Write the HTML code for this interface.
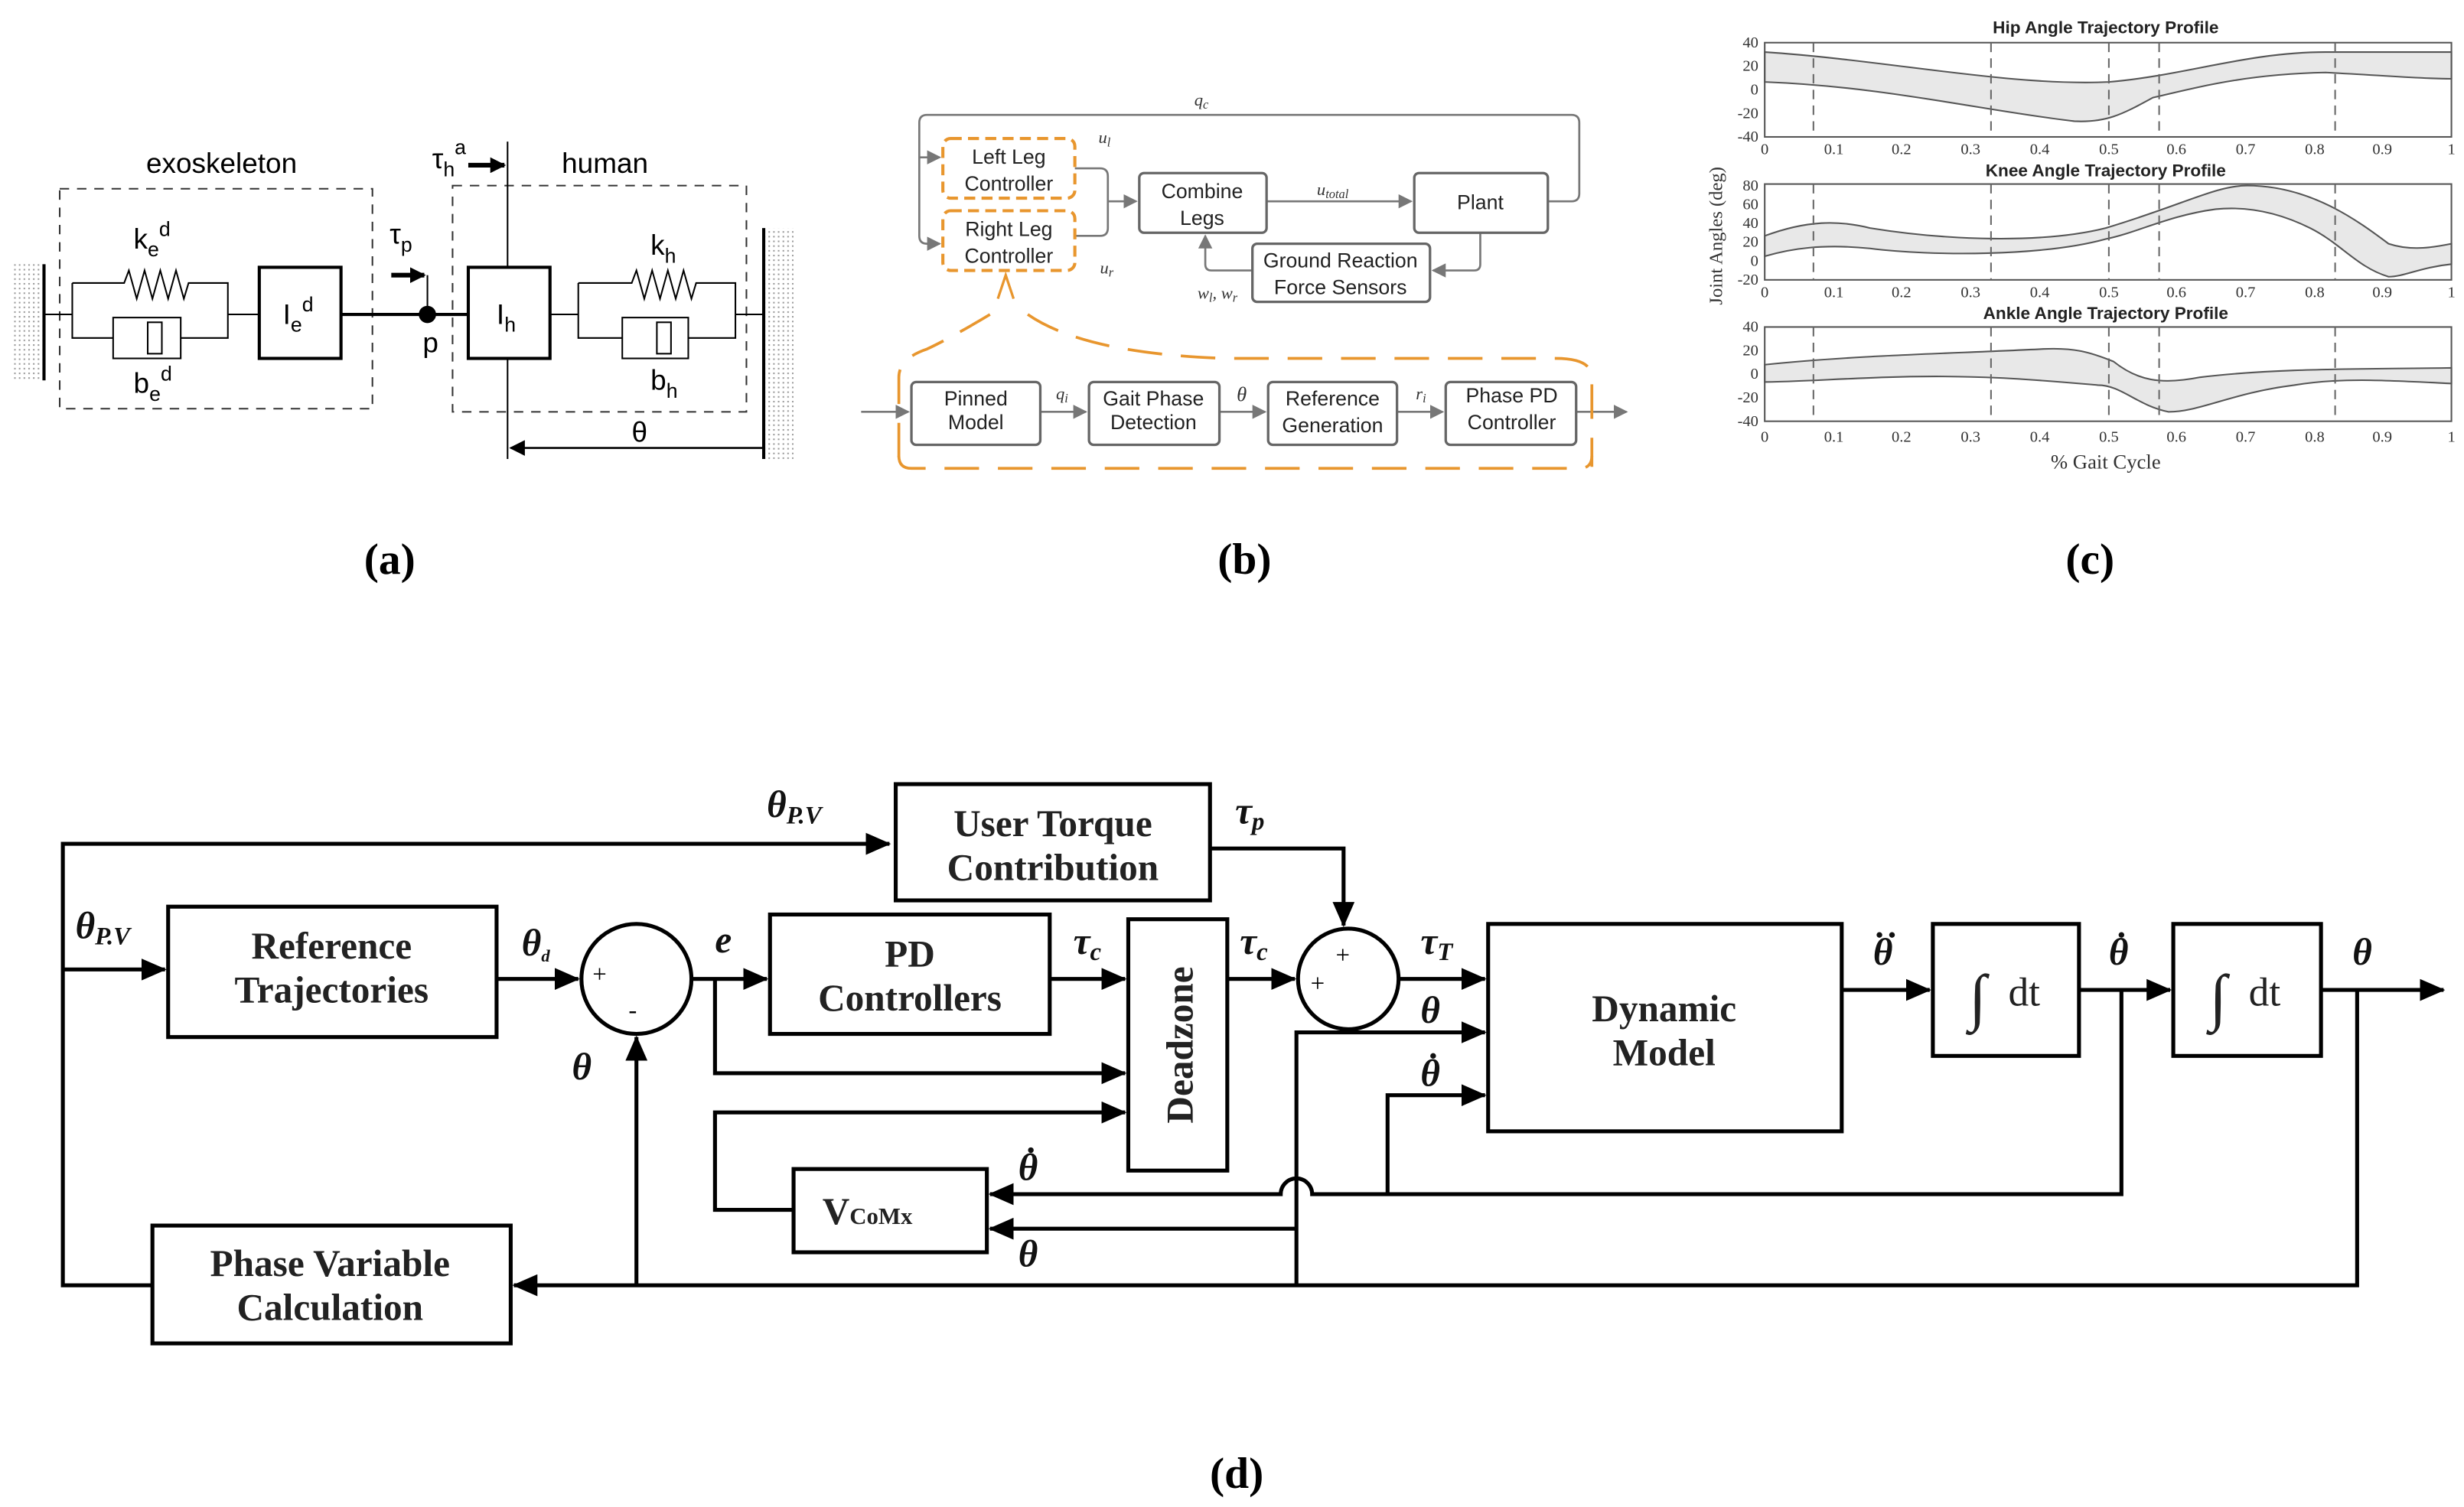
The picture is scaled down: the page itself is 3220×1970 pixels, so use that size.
<!DOCTYPE html>
<html><head><meta charset="utf-8"><style>
html,body{margin:0;padding:0;background:#fff;}
svg{display:block;}
.sa{font-family:"Liberation Sans","DejaVu Sans",sans-serif;}
.se{font-family:"Liberation Serif","DejaVu Serif",serif;}
</style></head><body>
<svg width="3220" height="1970" viewBox="0 0 1568 959" xmlns="http://www.w3.org/2000/svg">
<defs>
<marker id="ak" markerWidth="10" markerHeight="10" refX="9" refY="5" orient="auto" markerUnits="userSpaceOnUse"><path d="M0,0 L10,5 L0,10 z" fill="#000"/></marker>
<marker id="ag" markerWidth="9" markerHeight="9" refX="8" refY="4.5" orient="auto" markerUnits="userSpaceOnUse"><path d="M0,0 L9,4.5 L0,9 z" fill="#777"/></marker>
<marker id="ab" markerWidth="16" markerHeight="14" refX="15" refY="7" orient="auto" markerUnits="userSpaceOnUse"><path d="M0,0 L16,7 L0,14 z" fill="#000"/></marker>
<pattern id="hatch" width="3" height="3" patternUnits="userSpaceOnUse"><rect width="3" height="3" fill="#fff"/><rect width="1" height="1" fill="#999"/></pattern>
</defs>
<rect width="1568" height="959" fill="#fff"/>

<!-- ===== (a) ===== -->
<g stroke="#000" fill="none" stroke-width="1">
<rect x="8" y="168" width="19" height="74" fill="url(#hatch)" stroke="none"/>
<line x1="28" y1="168" x2="28" y2="242" stroke-width="2"/>
<rect x="38" y="120" width="199" height="140" stroke-dasharray="6,5" stroke="#333"/>
<rect x="288" y="118" width="187" height="144" stroke-dasharray="6,5" stroke="#333"/>
<line x1="28" y1="200" x2="46" y2="200"/>
<path d="M46,180 V215 H72 M115,215 H145 V180 H120 l-3,10 l-5,-18 l-5,18 l-5,-18 l-5,18 l-5,-18 l-5,18 l-5,-18 l-3,8 H46 M145,200 H165"/>
<rect x="72" y="202" width="43" height="26" fill="#fff"/>
<rect x="94" y="205" width="9" height="20" fill="#fff"/>
<rect x="165" y="170" width="52" height="58" stroke-width="2"/>
<line x1="217" y1="200" x2="298" y2="200" stroke-width="2"/>
<circle cx="272" cy="200" r="5" fill="#000"/>
<line x1="272" y1="175" x2="272" y2="200"/>
<line x1="249" y1="175" x2="270" y2="175" stroke-width="3" marker-end="url(#ak)"/>
<rect x="298" y="170" width="52" height="58" stroke-width="2"/>
<line x1="323" y1="90" x2="323" y2="170"/>
<line x1="323" y1="228" x2="323" y2="292"/>
<line x1="298" y1="105" x2="321" y2="105" stroke-width="3" marker-end="url(#ak)"/>
<path d="M350,200 H368 M368,180 V215 H396 M438,215 H468 V180 H443 l-3,10 l-5,-18 l-5,18 l-5,-18 l-5,18 l-5,-18 l-5,18 l-5,-18 l-3,8 H368 M468,200 H486"/>
<rect x="396" y="202" width="42" height="26" fill="#fff"/>
<rect x="418" y="205" width="9" height="20" fill="#fff"/>
<rect x="487" y="145" width="18" height="147" fill="url(#hatch)" stroke="none"/>
<line x1="486" y1="145" x2="486" y2="292" stroke-width="2"/>
<line x1="486" y1="285" x2="325" y2="285" stroke-width="1.3" marker-end="url(#ak)"/>
</g>
<g class="sa" fill="#000" font-size="18">
<text x="141" y="110" text-anchor="middle">exoskeleton</text>
<text x="385" y="110" text-anchor="middle">human</text>
<text x="85" y="158">k<tspan font-size="13" dy="5">e</tspan><tspan font-size="13" dy="-13">d</tspan></text>
<text x="85" y="250">b<tspan font-size="13" dy="5">e</tspan><tspan font-size="13" dy="-13">d</tspan></text>
<text x="180" y="206">I<tspan font-size="13" dy="5">e</tspan><tspan font-size="13" dy="-13">d</tspan></text>
<text x="316" y="206">I<tspan font-size="13" dy="5">h</tspan></text>
<text x="414" y="162">k<tspan font-size="13" dy="5">h</tspan></text>
<text x="414" y="248">b<tspan font-size="13" dy="5">h</tspan></text>
<text x="248" y="155">τ<tspan font-size="13" dy="5">p</tspan></text>
<text x="269" y="224">p</text>
<text x="275" y="107">τ<tspan font-size="13" dy="5">h</tspan><tspan font-size="13" dy="-14">a</tspan></text>
<text x="402" y="281">θ</text>
</g>

<!-- ===== (b) ===== -->
<g stroke="#777" fill="none" stroke-width="1.3">
<path d="M985,128 H1000 Q1005,128 1005,123 V78 Q1005,73 1000,73 H590 Q585,73 585,78 V150 Q585,155 590,155 H598" marker-end="url(#ag)"/>
<line x1="585" y1="100" x2="598" y2="100" marker-end="url(#ag)"/>
<path d="M684,107 H700 Q705,107 705,112 V145 Q705,150 700,150 H684"/>
<line x1="705" y1="128" x2="723" y2="128" marker-end="url(#ag)"/>
<line x1="806" y1="128" x2="898" y2="128" marker-end="url(#ag)"/>
<path d="M942,148 V168 Q942,172 938,172 H912" marker-end="url(#ag)"/>
<path d="M797,172 H771 Q767,172 767,168 V150" marker-end="url(#ag)"/>
<rect x="725" y="110" width="81" height="38" rx="3" stroke="#666" stroke-width="1.6"/>
<rect x="900" y="110" width="85" height="38" rx="3" stroke="#666" stroke-width="1.6"/>
<rect x="797" y="155" width="113" height="37" rx="3" stroke="#666" stroke-width="1.6"/>
<line x1="548" y1="262" x2="578" y2="262" marker-end="url(#ag)"/>
<line x1="662" y1="262" x2="691" y2="262" marker-end="url(#ag)"/>
<line x1="776" y1="262" x2="805" y2="262" marker-end="url(#ag)"/>
<line x1="889" y1="262" x2="918" y2="262" marker-end="url(#ag)"/>
<line x1="1003" y1="262" x2="1035" y2="262" marker-end="url(#ag)"/>
<rect x="580" y="243" width="82" height="40" rx="3" stroke="#666" stroke-width="1.6"/>
<rect x="693" y="243" width="83" height="40" rx="3" stroke="#666" stroke-width="1.6"/>
<rect x="807" y="243" width="82" height="40" rx="3" stroke="#666" stroke-width="1.6"/>
<rect x="920" y="243" width="83" height="40" rx="3" stroke="#666" stroke-width="1.6"/>
</g>
<g stroke="#e8962e" fill="none" stroke-width="2">
<rect x="600" y="88" width="84" height="38" rx="5" stroke-dasharray="7,4"/>
<rect x="600" y="134" width="84" height="38" rx="5" stroke-dasharray="7,4"/>
<path d="M635,190 L640,175 L645,190" stroke-width="1.6"/>
<path d="M630,200 Q605,215 590,222 Q572,228 572,240 V297 M654,200 Q690,225 780,228 H990 Q1013,228 1013,240 V297" stroke-dasharray="22,12" stroke-width="1.8"/>
<path d="M572,290 Q572,298 580,298 H1005 Q1013,298 1013,290" stroke-dasharray="22,12" stroke-width="1.8"/>
</g>
<g class="sa" fill="#222" font-size="13" text-anchor="middle">
<text x="642" y="104">Left Leg</text><text x="642" y="121">Controller</text>
<text x="642" y="150">Right Leg</text><text x="642" y="167">Controller</text>
<text x="765" y="126">Combine</text><text x="765" y="143">Legs</text>
<text x="942" y="133">Plant</text>
<text x="853" y="170">Ground Reaction</text><text x="853" y="187">Force Sensors</text>
<text x="621" y="258">Pinned</text><text x="621" y="273">Model</text>
<text x="734" y="258">Gait Phase</text><text x="734" y="273">Detection</text>
<text x="848" y="258">Reference</text><text x="848" y="275">Generation</text>
<text x="962" y="256">Phase PD</text><text x="962" y="273">Controller</text>
</g>
<g class="se" fill="#333" font-size="11" font-style="italic">
<text x="760" y="67">q<tspan font-size="8" dy="2">c</tspan></text>
<text x="699" y="91">u<tspan font-size="8" dy="2">l</tspan></text>
<text x="700" y="174">u<tspan font-size="8" dy="2">r</tspan></text>
<text x="838" y="124">u<tspan font-size="8" dy="2">total</tspan></text>
<text x="762" y="190">w<tspan font-size="8" dy="2">l</tspan><tspan dy="-2">, w</tspan><tspan font-size="8" dy="2">r</tspan></text>
<text x="672" y="254">q<tspan font-size="8" dy="2">i</tspan></text>
<text x="787" y="255" font-size="13">θ</text>
<text x="901" y="254">r<tspan font-size="8" dy="2">i</tspan></text>
</g>

<!-- ===== (c) ===== -->
<g class="sa" font-size="11" font-weight="bold" fill="#222" text-anchor="middle">
<text x="1340" y="21">Hip Angle Trajectory Profile</text>
<text x="1340" y="112">Knee Angle Trajectory Profile</text>
<text x="1340" y="203">Ankle Angle Trajectory Profile</text>
</g>
<g fill="#e8e8e8" stroke="#555" stroke-width="1">
<path d="M1123,33 C1200,38 1280,55 1342,52 C1390,48 1430,33 1480,33 C1520,33 1545,33 1560,33 L1560,50 C1540,50 1520,48 1480,46 C1430,47 1400,55 1370,62 C1350,73 1340,78 1320,77 C1260,70 1200,55 1123,52 Z"/>
<path d="M1123,150 C1150,140 1170,140 1190,145 C1240,153 1300,155 1340,145 C1390,130 1410,118 1430,118 C1470,118 1500,140 1520,155 C1535,160 1550,157 1560,155 L1560,168 C1540,170 1530,176 1520,176 C1500,170 1490,155 1470,145 C1450,135 1430,131 1410,133 C1380,137 1360,148 1340,152 C1300,163 1230,163 1190,158 C1160,155 1140,158 1123,163 Z"/>
<path d="M1123,232 C1180,226 1240,225 1300,222 C1320,221 1330,224 1345,230 C1360,242 1375,245 1400,240 C1450,234 1500,235 1560,234 L1560,244 C1520,242 1490,240 1460,245 C1420,250 1400,262 1380,262 C1360,258 1350,245 1335,245 C1300,242 1260,238 1200,240 C1170,241 1140,243 1123,243 Z"/>
</g>
<g fill="none" stroke="#555" stroke-width="1">
<rect x="1123" y="27" width="437" height="60"/>
<rect x="1123" y="117" width="437" height="61"/>
<rect x="1123" y="208" width="437" height="60"/>
<g stroke-dasharray="6,4" stroke="#666">
<path d="M1154,27V87M1267,27V87M1342,27V87M1374,27V87M1486,27V87"/>
<path d="M1154,117V178M1267,117V178M1342,117V178M1374,117V178M1486,117V178"/>
<path d="M1154,208V268M1267,208V268M1342,208V268M1374,208V268M1486,208V268"/>
</g>
</g>
<g class="se" font-size="10" fill="#333">
<g text-anchor="end">
<text x="1119" y="30">40</text><text x="1119" y="45">20</text><text x="1119" y="60">0</text><text x="1119" y="75">-20</text><text x="1119" y="90">-40</text>
<text x="1119" y="121">80</text><text x="1119" y="133">60</text><text x="1119" y="145">40</text><text x="1119" y="157">20</text><text x="1119" y="169">0</text><text x="1119" y="181">-20</text>
<text x="1119" y="211">40</text><text x="1119" y="226">20</text><text x="1119" y="241">0</text><text x="1119" y="256">-20</text><text x="1119" y="271">-40</text>
</g>
<g text-anchor="middle">
<text x="1123" y="98">0</text><text x="1167" y="98">0.1</text><text x="1210" y="98">0.2</text><text x="1254" y="98">0.3</text><text x="1298" y="98">0.4</text><text x="1342" y="98">0.5</text><text x="1385" y="98">0.6</text><text x="1429" y="98">0.7</text><text x="1473" y="98">0.8</text><text x="1516" y="98">0.9</text><text x="1560" y="98">1</text>
<text x="1123" y="189">0</text><text x="1167" y="189">0.1</text><text x="1210" y="189">0.2</text><text x="1254" y="189">0.3</text><text x="1298" y="189">0.4</text><text x="1342" y="189">0.5</text><text x="1385" y="189">0.6</text><text x="1429" y="189">0.7</text><text x="1473" y="189">0.8</text><text x="1516" y="189">0.9</text><text x="1560" y="189">1</text>
<text x="1123" y="281">0</text><text x="1167" y="281">0.1</text><text x="1210" y="281">0.2</text><text x="1254" y="281">0.3</text><text x="1298" y="281">0.4</text><text x="1342" y="281">0.5</text><text x="1385" y="281">0.6</text><text x="1429" y="281">0.7</text><text x="1473" y="281">0.8</text><text x="1516" y="281">0.9</text><text x="1560" y="281">1</text>
<text x="1340" y="298" font-size="13">% Gait Cycle</text>
<text x="0" y="0" font-size="12" transform="translate(1096,150) rotate(-90)">Joint Angles (deg)</text>
</g>
</g>

<!-- panel labels -->
<g class="se" font-size="28" font-weight="bold" fill="#000" text-anchor="middle">
<text x="248" y="365">(a)</text>
<text x="792" y="365">(b)</text>
<text x="1330" y="365">(c)</text>
<text x="787" y="947">(d)</text>
</g>

<!-- ===== (d) ===== -->
<g stroke="#000" fill="none" stroke-width="2.5">
<rect x="570" y="499" width="200" height="74"/>
<rect x="107" y="577" width="209" height="83"/>
<rect x="490" y="582" width="178" height="76"/>
<rect x="718" y="585" width="63" height="160"/>
<rect x="947" y="588" width="225" height="132"/>
<rect x="1230" y="588" width="93" height="84"/>
<rect x="1383" y="588" width="94" height="84"/>
<rect x="505" y="744" width="123" height="53"/>
<rect x="97" y="780" width="228" height="75"/>
<circle cx="405" cy="623" r="35"/>
<circle cx="858" cy="623" r="32"/>
<path d="M97,818 H40 V537 H566" marker-end="url(#ab)"/>
<line x1="40" y1="617" x2="105" y2="617" marker-end="url(#ab)"/>
<line x1="316" y1="623" x2="368" y2="623" marker-end="url(#ab)"/>
<line x1="440" y1="623" x2="488" y2="623" marker-end="url(#ab)"/>
<path d="M455,623 V683 H716" marker-end="url(#ab)"/>
<line x1="668" y1="623" x2="716" y2="623" marker-end="url(#ab)"/>
<line x1="781" y1="623" x2="824" y2="623" marker-end="url(#ab)"/>
<path d="M770,540 H855 V589" marker-end="url(#ab)"/>
<line x1="890" y1="623" x2="945" y2="623" marker-end="url(#ab)"/>
<path d="M825,818 V657 H945" marker-end="url(#ab)"/>
<path d="M883,760 V697 H945" marker-end="url(#ab)"/>
<line x1="1172" y1="630" x2="1228" y2="630" marker-end="url(#ab)"/>
<line x1="1323" y1="630" x2="1381" y2="630" marker-end="url(#ab)"/>
<line x1="1477" y1="630" x2="1555" y2="630" marker-end="url(#ab)"/>
<path d="M1350,630 V760 H835 A10,10 0 0 0 815,760 H630" marker-end="url(#ab)"/>
<path d="M1500,630 V818 H327" marker-end="url(#ab)"/>
<line x1="825" y1="782" x2="630" y2="782" marker-end="url(#ab)"/>
<line x1="405" y1="818" x2="405" y2="660" marker-end="url(#ab)"/>
<path d="M505,770 H455 V708 H716" marker-end="url(#ab)"/>
</g>
<g class="se" font-weight="bold" fill="#222" font-size="24" text-anchor="middle">
<text x="670" y="532">User Torque</text><text x="670" y="560">Contribution</text>
<text x="211" y="610">Reference</text><text x="211" y="638">Trajectories</text>
<text x="579" y="615">PD</text><text x="579" y="643">Controllers</text>
<text x="0" y="0" transform="translate(759,665) rotate(-90)">Deadzone</text>
<text x="1059" y="650">Dynamic</text><text x="1059" y="678">Model</text>
<text x="210" y="812">Phase Variable</text><text x="210" y="840">Calculation</text>
<text x="552" y="779">V<tspan font-size="15">CoMx</tspan></text>
</g>
<g class="se" fill="#222">
<text x="1253" y="648" font-size="40">∫</text><text x="1278" y="640" font-size="26">dt</text>
<text x="1406" y="648" font-size="40">∫</text><text x="1431" y="640" font-size="26">dt</text>
</g>
<g class="se" font-weight="bold" font-style="italic" fill="#111" font-size="24">
<text x="488" y="520">θ<tspan font-size="16" dy="4">P.V</tspan></text>
<text x="48" y="597">θ<tspan font-size="16" dy="4">P.V</tspan></text>
<text x="332" y="608">θ<tspan font-size="11" dy="4">d</tspan></text>
<text x="455" y="606">e</text>
<text x="364" y="687">θ</text>
<text x="683" y="607">τ<tspan font-size="16" dy="4">c</tspan></text>
<text x="789" y="607">τ<tspan font-size="16" dy="4">c</tspan></text>
<text x="786" y="524">τ<tspan font-size="16" dy="4">p</tspan></text>
<text x="904" y="607">τ<tspan font-size="16" dy="4">T</tspan></text>
<text x="904" y="651">θ</text>
<text x="904" y="691">θ</text>
<text x="1192" y="614">θ</text>
<text x="1342" y="614">θ</text>
<text x="1497" y="614">θ</text>
<text x="648" y="751">θ</text>
<text x="648" y="806">θ</text>
</g>
<g fill="#111">
<circle cx="912" cy="672" r="1.8"/>
<circle cx="1196" cy="595" r="1.8"/><circle cx="1204" cy="595" r="1.8"/>
<circle cx="1350" cy="595" r="1.8"/>
<circle cx="656" cy="732" r="1.8"/>
</g>
<g class="se" fill="#000" font-size="16">
<text x="377" y="625">+</text>
<text x="400" y="648">-</text>
<text x="850" y="613">+</text>
<text x="834" y="631">+</text>
</g>
</svg>
</body></html>
